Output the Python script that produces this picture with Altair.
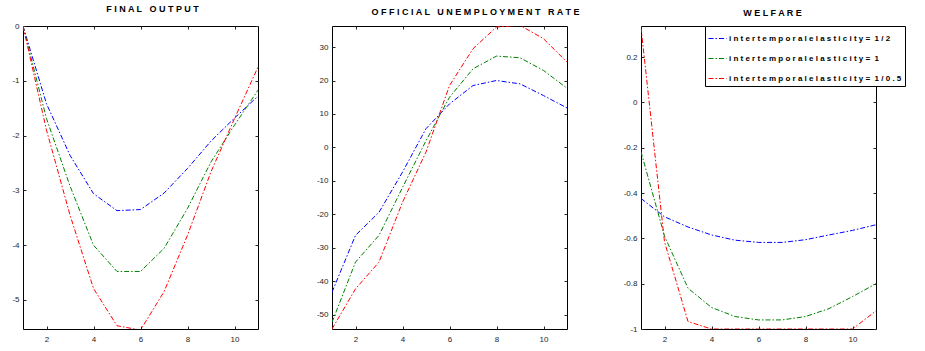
import altair as alt
import pandas as pd

steps = list(range(1, 12))
series_names = [
    "intertemporal elasticity = 1/2",
    "intertemporal elasticity = 1",
    "intertemporal elasticity = 1/0.5",
]
series_colors = ["#0000ff", "#008000", "#ff0000"]

output_half = [0, -1.42, -2.36, -3.06, -3.37, -3.35, -3.05, -2.6, -2.1, -1.68, -1.28]
output_one = [0, -1.69, -2.92, -4.0, -4.48, -4.48, -4.06, -3.33, -2.48, -1.81, -1.17]
output_two = [0, -1.9, -3.45, -4.79, -5.47, -5.55, -4.85, -3.82, -2.66, -1.69, -0.75]

unemp_half = [-43.3, -26.3, -19.4, -7.4, 5.6, 13.0, 18.5, 20.0, 19.0, 15.5, 11.8]
unemp_one = [-52.3, -34.3, -26.3, -12.0, 2.0, 15.0, 23.5, 27.3, 26.8, 23.0, 17.7]
unemp_two = [-54.3, -42.3, -34.3, -16.4, -1.4, 18.5, 29.5, 36.0, 36.5, 32.5, 25.5]

welfare_half = [-0.424, -0.505, -0.55, -0.585, -0.608, -0.618, -0.618, -0.606, -0.585, -0.565, -0.54]
welfare_one = [-0.218, -0.59, -0.82, -0.905, -0.945, -0.96, -0.96, -0.945, -0.91, -0.857, -0.8]
welfare_two = [0.33, -0.615, -0.967, -1.0, -1.0, -1.0, -1.0, -1.0, -1.0, -1.0, -0.92]

x_ticks = [2, 4, 6, 8, 10]
output_ticks = [0, -1, -2, -3, -4, -5]
unemp_ticks = [30, 20, 10, 0, -10, -20, -30, -40, -50]
welfare_ticks = [0.2, 0, -0.2, -0.4, -0.6, -0.8, -1]

titles = ["FINAL OUTPUT", "OFFICIAL UNEMPLOYMENT RATE", "WELFARE"]

NBSP = "\u00a0"


def spaced_label(s):
    left, right = s.split(" = ")
    return " ".join(left.replace(" ", "")) + " =" + NBSP + " " + " ".join(right)


def spaced_title(s):
    return (" " + NBSP + " ").join(" ".join(w) for w in s.split(" "))


labels = [spaced_label(s) for s in series_names]


def make_df(a, b, c):
    rows = []
    for lab, vals in zip(labels, [a, b, c]):
        for x, v in zip(steps, vals):
            rows.append({"step": x, "value": v, "series": lab})
    return pd.DataFrame(rows)


W, H = 235, 303
DASH = [5, 2, 1.5, 2]


def panel(df, title, ydom, yticks, dx, legend):
    xs = alt.Scale(domain=[1, 11], nice=False, zero=False)
    ys = alt.Scale(domain=ydom, nice=False, zero=False)
    base = alt.Chart(df)
    color = alt.Color(
        "series:N",
        scale=alt.Scale(domain=labels, range=series_colors),
        legend=legend,
    )
    lines = base.mark_line(strokeWidth=1, strokeDash=DASH, clip=True).encode(
        x=alt.X(
            "step:Q", scale=xs, title=None,
            axis=alt.Axis(orient="bottom", values=x_ticks, ticks=False, domain=False,
                          grid=False, labelPadding=6),
        ),
        y=alt.Y(
            "value:Q", scale=ys, title=None,
            axis=alt.Axis(orient="left", values=yticks, ticks=False, domain=False,
                          grid=False, labelPadding=4, labelExpr="'' + datum.value"),
        ),
        color=color,
    )
    tick_ax = dict(labels=False, domain=False, grid=False, ticks=True, tickSize=3,
                   tickColor="#262626", tickWidth=1)
    inner1 = base.mark_line(strokeOpacity=0).encode(
        x=alt.X("step:Q", scale=xs, title=None,
                axis=alt.Axis(orient="top", offset=-H, values=x_ticks, **tick_ax)),
        y=alt.Y("value:Q", scale=ys, title=None,
                axis=alt.Axis(orient="right", offset=-W, values=yticks, **tick_ax)),
        detail="series:N",
    )
    inner2 = base.mark_line(strokeOpacity=0).encode(
        x=alt.X("step:Q", scale=xs, title=None,
                axis=alt.Axis(orient="bottom", offset=-H, values=x_ticks, **tick_ax)),
        y=alt.Y("value:Q", scale=ys, title=None,
                axis=alt.Axis(orient="left", offset=-W, values=yticks, **tick_ax)),
        detail="series:N",
    )
    return (
        alt.layer(lines, inner1, inner2)
        .resolve_axis(x="independent", y="independent")
        .properties(
            width=W, height=H,
            title=alt.TitleParams(text=spaced_title(title), anchor="middle", dx=dx, offset=8),
        )
    )


legend_box = alt.Legend(
    orient="none", legendX=64, legendY=0, title=None,
    strokeColor="black", fillColor="white", padding=3, cornerRadius=0,
    symbolType="stroke", symbolSize=324, symbolStrokeWidth=1, symbolDash=DASH,
    labelFont="Liberation Sans", labelFontSize=8, labelFontWeight="bold",
    labelColor="black", labelOffset=2, labelLimit=0, rowPadding=6,
)

p1 = panel(make_df(output_half, output_one, output_two), titles[0], [-5.53, 0], output_ticks, 12, None)
p2 = panel(make_df(unemp_half, unemp_one, unemp_two), titles[1], [-54.3, 36.3], unemp_ticks, 26, None)
p3 = panel(make_df(welfare_half, welfare_one, welfare_two), titles[2], [-1.0, 0.337], welfare_ticks, 14, legend_box)

chart = (
    alt.hconcat(p1, p2, p3, spacing=74, bounds="flush")
    .resolve_scale(color="independent")
    .resolve_legend(color="independent")
    .properties(padding={"left": 11, "top": 4, "right": 0, "bottom": 0}, background="white")
    .configure_view(stroke="black", strokeWidth=1)
    .configure_axis(labelFont="Liberation Sans", labelFontSize=8, labelColor="#262626")
    .configure_title(font="Liberation Sans", fontSize=9, fontWeight="bold", color="black")
)

chart.save("out.html", embed_options={"renderer": "svg", "actions": False})
